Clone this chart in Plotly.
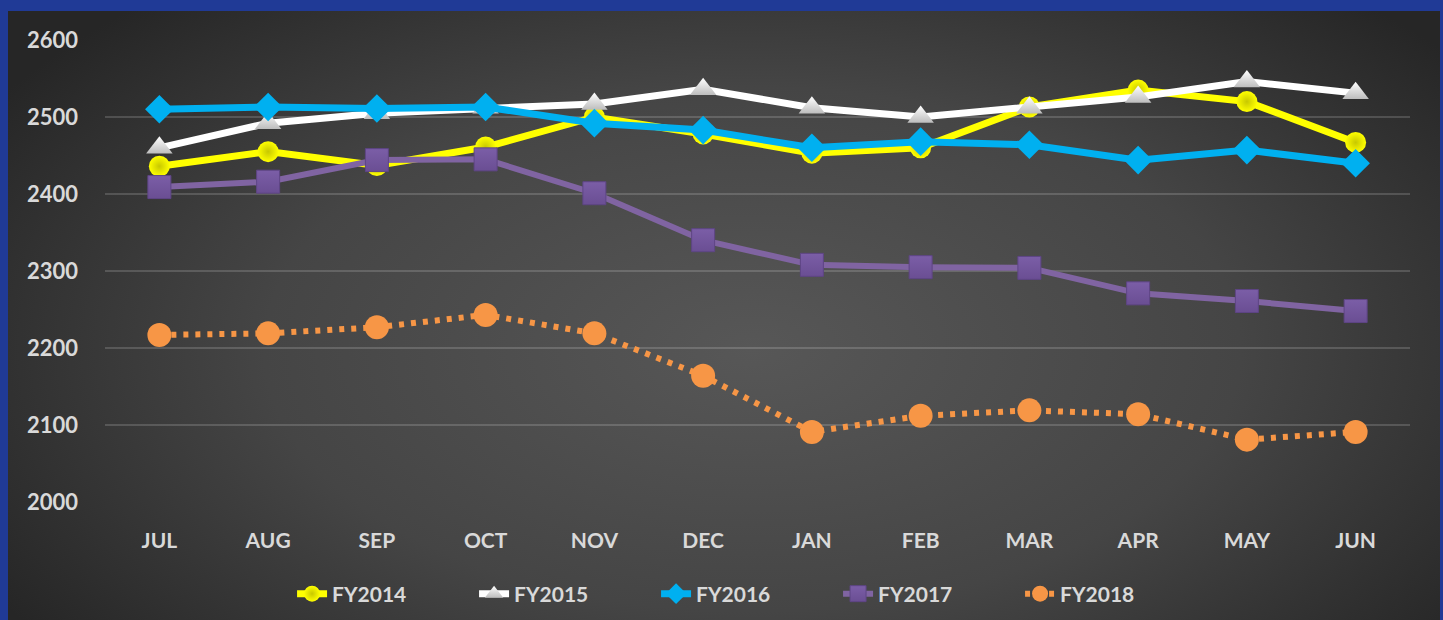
import base64
import plotly.graph_objects as go

months = ["JUL", "AUG", "SEP", "OCT", "NOV", "DEC", "JAN", "FEB", "MAR", "APR", "MAY", "JUN"]
fy2014 = [2436, 2455, 2437, 2461, 2500, 2478, 2453, 2460, 2513, 2535, 2520, 2467]
fy2015 = [2460, 2492, 2505, 2512, 2517, 2536, 2512, 2500, 2512, 2526, 2546, 2531]
fy2016 = [2510, 2513, 2511, 2513, 2492, 2483, 2460, 2468, 2464, 2444, 2457, 2440]
fy2017 = [2409, 2416, 2444, 2445, 2401, 2340, 2308, 2305, 2304, 2271, 2261, 2248]
fy2018 = [2217, 2219, 2227, 2243, 2219, 2164, 2091, 2112, 2119, 2114, 2081, 2091]
y_ticks = [2000, 2100, 2200, 2300, 2400, 2500, 2600]

W, H = 1443, 620
L, R, T, B = 105, 33, 40, 118
pw, ph = W - L - R, H - T - B

svg = """<svg xmlns='http://www.w3.org/2000/svg' width='1432' height='615' viewBox='0 0 1432 615' preserveAspectRatio='none'>
<defs><radialGradient id='g' cx='0.52' cy='0.55' r='0.62' gradientTransform='translate(0.52 0.55) scale(1 1.25) translate(-0.52 -0.55)'>
<stop offset='0' stop-color='#575757'/><stop offset='0.55' stop-color='#454545'/><stop offset='1' stop-color='#262626'/></radialGradient></defs>
<rect width='1432' height='615' fill='url(#g)'/></svg>"""
src = "data:image/svg+xml;base64," + base64.b64encode(svg.encode()).decode()

fig = go.Figure()
fig.add_trace(go.Scatter(x=months, y=fy2014, name="FY2014", mode="lines+markers",
                         line=dict(color="#FFFF00", width=7),
                         marker=dict(symbol="circle", size=21, color="#FFFF00",
                                     gradient=dict(type="radial", color="#C8C800"), line=dict(width=0))))
fig.add_trace(go.Scatter(x=months, y=fy2015, name="FY2015", mode="lines+markers",
                         line=dict(color="#FFFFFF", width=7),
                         marker=dict(symbol="triangle-up", size=23, color="#FFFFFF",
                                     gradient=dict(type="vertical", color="#BDBDBD"), line=dict(width=0))))
fig.add_trace(go.Scatter(x=months, y=fy2016, name="FY2016", mode="lines+markers",
                         line=dict(color="#00B0F0", width=7),
                         marker=dict(symbol="diamond", size=22, color="#00B0F0", line=dict(width=0))))
fig.add_trace(go.Scatter(x=months, y=fy2017, name="FY2017", mode="lines+markers",
                         line=dict(color="#8064A2", width=6),
                         marker=dict(symbol="square", size=23, color="#7B5EA7",
                                     gradient=dict(type="vertical", color="#6A4E93"),
                                     line=dict(width=1, color="#5E4585"))))
fig.add_trace(go.Scatter(x=months, y=fy2018, name="FY2018", mode="lines+markers",
                         line=dict(color="#F79646", width=6, dash="5px,7px"),
                         marker=dict(symbol="circle", size=24, color="#F79646", line=dict(width=0))))

fig.update_layout(
    width=W, height=H,
    margin=dict(l=L, r=R, t=T, b=B, pad=0, autoexpand=False),
    paper_bgcolor="#203A96",
    plot_bgcolor="rgba(0,0,0,0)",
    font=dict(family="Lato, 'Open Sans', sans-serif", color="#D9D9D9"),
    showlegend=True,
    legend=dict(orientation="h", x=0.492, xanchor="center", y=(T + ph - 594) / ph, yanchor="middle",
                font=dict(size=21, color="#D9D9D9", family="Lato, sans-serif", weight="bold"),
                bgcolor="rgba(0,0,0,0)", entrywidth=137, entrywidthmode="pixels", tracegroupgap=0),
    xaxis=dict(type="category", categoryorder="array", categoryarray=months,
               range=[-0.5, 11.5], showgrid=False, zeroline=False, showline=False,
               tickfont=dict(size=21, color="#D9D9D9", weight="bold"),
               ticks="", ticklabelstandoff=24),
    yaxis=dict(range=[2000, 2600], tickvals=y_ticks, showgrid=True,
               gridcolor="rgba(255,255,255,0.16)", gridwidth=1.5, zeroline=False, showline=False,
               tickfont=dict(size=22, color="#D9D9D9", weight="bold"),
               ticks="", ticklabelstandoff=26),
    images=[dict(source=src, xref="paper", yref="paper",
                 x=(8 - L) / pw, y=(T + ph - 11) / ph,
                 sizex=(1440 - 8) / pw, sizey=(626 - 11) / ph,
                 xanchor="left", yanchor="top", sizing="stretch", layer="below")],
)

fig.write_html("out.html", config={"displayModeBar": False},
               post_script="document.body.style.margin='0';document.body.style.overflow='hidden';")
